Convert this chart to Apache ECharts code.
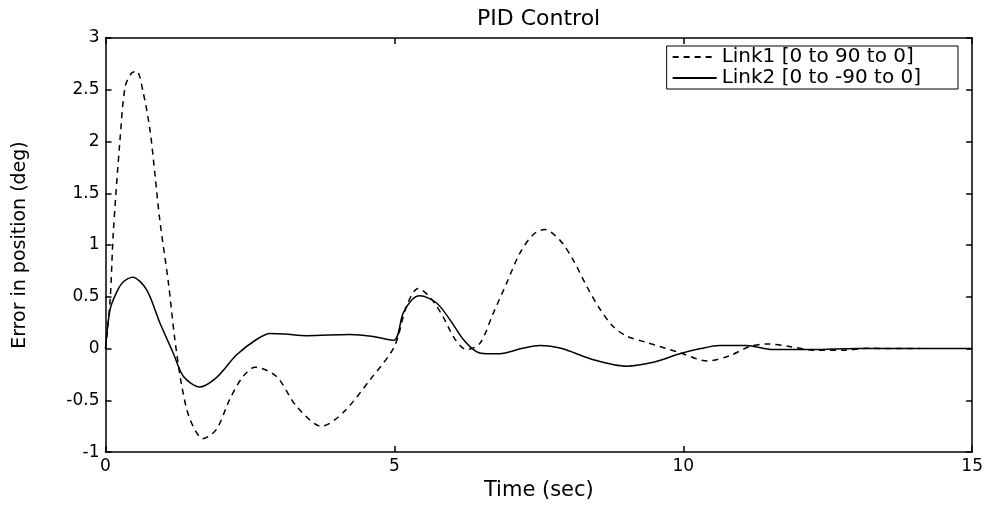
<!DOCTYPE html>
<html>
<head>
<meta charset="utf-8">
<script src="https://cdn.jsdelivr.net/npm/echarts@6/dist/echarts.min.js"></script>
<style>html,body{margin:0;padding:0;background:#fff;}#c{width:986px;height:506px;}</style>
</head>
<body>
<div id="c"></div>
<script>
// Link1 [0 to 90 to 0] (dashed)
const link1T = [0, 0.08, 0.135, 0.25, 0.34, 0.45, 0.54, 0.65, 0.77, 0.86, 0.94, 1.09, 1.2, 1.32, 1.46, 1.69, 1.92, 2.15, 2.38, 2.59, 2.96, 3.31, 3.74, 4.11, 4.58, 5.0, 5.21, 5.41, 5.61, 5.84, 6.05, 6.25, 6.48, 6.71, 6.94, 7.17, 7.4, 7.6, 7.86, 8.09, 8.33, 8.56, 8.79, 9.02, 9.36, 9.94, 10.42, 10.8, 11.15, 11.44, 11.84, 12.25, 12.8, 13.17, 13.6, 14.1];
const link1V = [0, 0.47, 1.12, 2.01, 2.53, 2.66, 2.68, 2.48, 2.11, 1.66, 1.24, 0.63, 0.09, -0.36, -0.68, -0.87, -0.78, -0.49, -0.27, -0.18, -0.27, -0.56, -0.75, -0.62, -0.3, 0.02, 0.41, 0.58, 0.5, 0.31, 0.09, -0.01, 0.05, 0.34, 0.63, 0.92, 1.1, 1.15, 1.05, 0.86, 0.6, 0.38, 0.21, 0.12, 0.06, -0.04, -0.12, -0.07, 0.02, 0.045, 0.02, -0.015, -0.015, 0.003, 0.0, 0.0];
// Link2 [0 to -90 to 0] (solid)
const link2T = [0, 0.08, 0.19, 0.3, 0.47, 0.71, 0.94, 1.17, 1.35, 1.63, 1.92, 2.27, 2.62, 2.85, 3.1, 3.48, 4.23, 4.6, 4.99, 5.15, 5.3, 5.44, 5.73, 5.96, 6.19, 6.42, 6.6, 6.82, 7.2, 7.52, 7.9, 8.4, 9.02, 9.5, 9.94, 10.3, 10.63, 11.09, 11.55, 12.25, 13, 15];
const link2V = [0, 0.38, 0.54, 0.64, 0.69, 0.57, 0.25, -0.04, -0.27, -0.37, -0.28, -0.06, 0.09, 0.145, 0.14, 0.125, 0.135, 0.12, 0.08, 0.34, 0.47, 0.51, 0.44, 0.28, 0.09, -0.03, -0.05, -0.05, 0.0, 0.03, 0.0, -0.1, -0.17, -0.13, -0.05, 0.0, 0.03, 0.03, -0.01, -0.01, 0, 0];

const seriesNames = ['Link1 [0 to 90 to 0]', 'Link2 [0 to -90 to 0]'];
const titleText = 'PID Control';
const xName = 'Time (sec)';
const yName = 'Error in position (deg)';
const xMin = 0, xMax = 15, xStep = 5;
const yMin = -1, yMax = 3, yStep = 0.5;

const FONT = 'DejaVu Sans';
const pairs = (t, v) => t.map((x, i) => [x, v[i]]);

const chart = echarts.init(document.getElementById('c'), null, {renderer: 'canvas'});
const axisCommon = {
  axisLine: {show: true, onZero: false, lineStyle: {color: '#000', width: 1.5}},
  axisTick: {show: true, inside: true, length: 6, lineStyle: {color: '#000', width: 1.5}},
  splitLine: {show: false}
};
chart.setOption({
  animation: false,
  backgroundColor: '#fff',
  title: {
    text: titleText, left: 477, top: 8,
    padding: 0,
    textStyle: {fontFamily: FONT, fontSize: 22, fontWeight: 'normal', color: '#000'}
  },
  legend: {
    orient: 'vertical', right: 28, top: 46,
    data: seriesNames,
    itemWidth: 44, itemHeight: 20, itemGap: 1,
    padding: [1, 37, 1, 5],
    borderColor: '#000', borderWidth: 1, backgroundColor: '#fff',
    itemStyle: {opacity: 0},
    textStyle: {fontFamily: FONT, fontSize: 20, color: '#000', lineHeight: 20}
  },
  grid: {left: 105.5, right: 13, top: 38, bottom: 53, containLabel: false},
  xAxis: [
    Object.assign({
      type: 'value', min: xMin, max: xMax, interval: xStep, position: 'bottom',
      name: xName, nameLocation: 'middle', nameGap: 27,
      nameTextStyle: {fontFamily: FONT, fontSize: 21, color: '#000'},
      axisLabel: {fontFamily: FONT, fontSize: 17, color: '#000', margin: 6}
    }, axisCommon),
    Object.assign({
      type: 'value', min: xMin, max: xMax, interval: xStep, position: 'top',
      axisLabel: {show: false}
    }, axisCommon)
  ],
  yAxis: [
    Object.assign({
      type: 'value', min: yMin, max: yMax, interval: yStep, position: 'left',
      name: yName, nameLocation: 'middle', nameGap: 76, nameRotate: 90,
      nameTextStyle: {fontFamily: FONT, fontSize: 19, color: '#000'},
      axisLabel: {fontFamily: FONT, fontSize: 17, color: '#000', margin: 6}
    }, axisCommon),
    Object.assign({
      type: 'value', min: yMin, max: yMax, interval: yStep, position: 'right',
      axisLabel: {show: false}
    }, axisCommon)
  ],
  series: [
    {
      name: seriesNames[0], type: 'line', xAxisIndex: 0, yAxisIndex: 0,
      data: pairs(link1T, link1V), symbol: 'none', smooth: 0.3,
      lineStyle: {color: '#000', width: 1.5, type: [6, 5]},
      itemStyle: {color: '#000'}
    },
    {
      name: seriesNames[1], type: 'line', xAxisIndex: 0, yAxisIndex: 0,
      data: pairs(link2T, link2V), symbol: 'none', smooth: 0.3,
      lineStyle: {color: '#000', width: 1.5, type: 'solid'},
      itemStyle: {color: '#000'}
    }
  ]
});
</script>
</body>
</html>
